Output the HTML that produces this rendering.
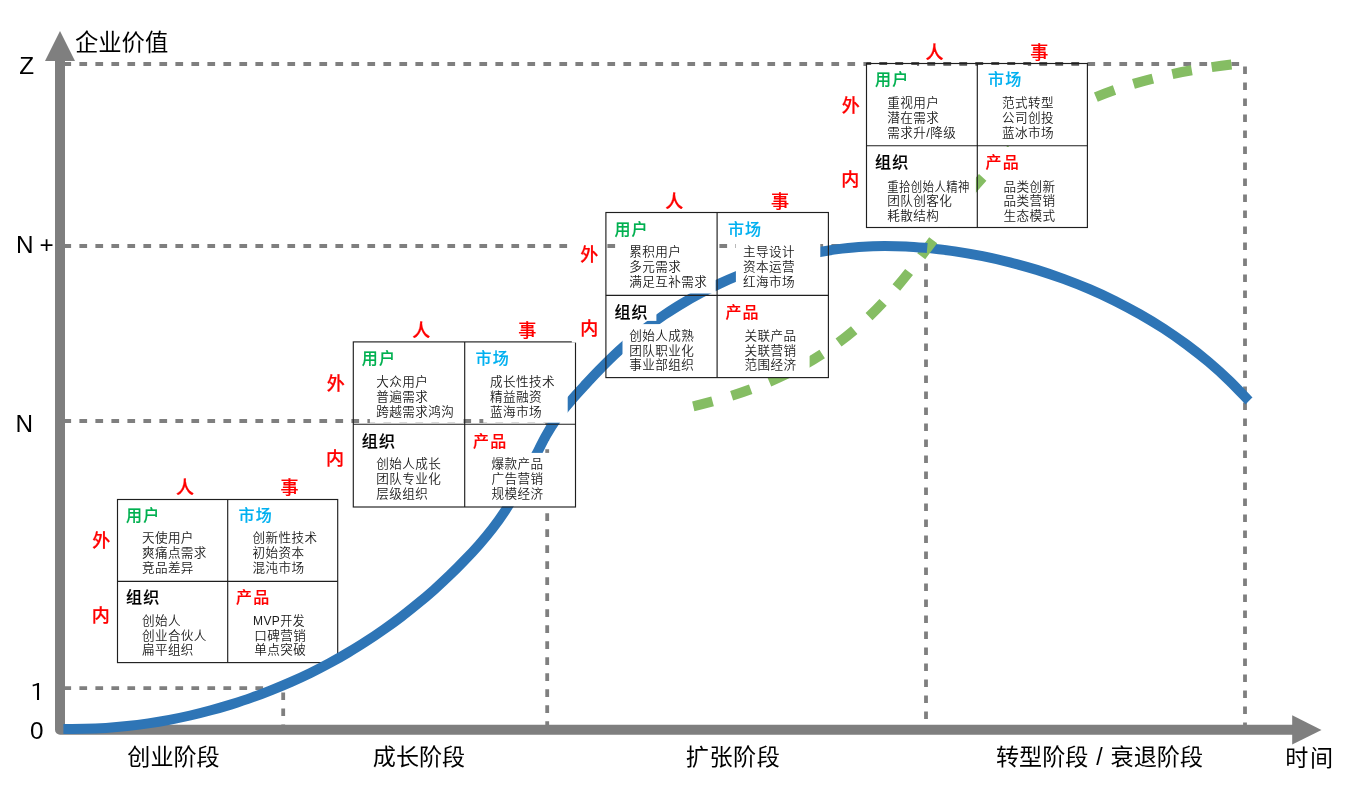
<!DOCTYPE html>
<html lang="zh-CN"><head><meta charset="utf-8"><title>企业生命周期</title>
<style>
html,body{margin:0;padding:0;background:#fff;}
body{width:1353px;height:787px;overflow:hidden;font-family:"Liberation Sans","Noto Sans CJK SC",sans-serif;}
svg{display:block;}
text{font-family:"Liberation Sans","Noto Sans CJK SC",sans-serif;}
.ax{font-size:24.3px;fill:#000;}
.st{font-size:23.1px;fill:#000;}
.rl{font-size:18px;font-weight:500;fill:#ff0000;stroke:#ff0000;stroke-width:0.2px;}
.tt{font-size:16px;font-weight:500;letter-spacing:1.2px;stroke-width:0.15px;}
.bd{font-size:12.6px;font-weight:350;fill:#1a1a1a;letter-spacing:0.4px;}
</style></head><body>
<svg width="1353" height="787" viewBox="0 0 1353 787">
<rect width="1353" height="787" fill="#fff"/>
<g stroke="#7f7f7f" stroke-width="3.8" fill="none" stroke-dasharray="7.7 8.3">
<path d="M63.4 64 H1245 V730"/>
<path d="M63.4 246 H926 V730"/>
<path d="M63.4 421 H547.2 V730"/>
<path d="M63.4 688.2 H283.2 V730"/>
</g>
<path d="M60 58 V729.8 H1293" stroke="#7f7f7f" stroke-width="10" fill="none" stroke-linejoin="round"/>
<path d="M60 31 L75 61 H45 Z" fill="#7f7f7f"/>
<path d="M1321.5 730 L1292.2 715.3 V744.6 Z" fill="#7f7f7f"/>
<rect x="83.4" y="525.9" width="33.6" height="30.9" fill="#fff"/>
<rect x="83.4" y="598.7" width="33.6" height="30.9" fill="#fff"/>
<rect x="118.0" y="500.8" width="50" height="24.2" fill="#fff"/>
<rect x="228.2" y="500.8" width="50" height="24.2" fill="#fff"/>
<rect x="134.1" y="528.2" width="92.2" height="51.3" fill="#fff"/>
<rect x="247.5" y="528.2" width="84.4" height="51.3" fill="#fff"/>
<rect x="118.0" y="582.7" width="50" height="24.2" fill="#fff"/>
<rect x="228.2" y="582.7" width="50" height="24.2" fill="#fff"/>
<rect x="134.1" y="610.1" width="92.2" height="51.9" fill="#fff"/>
<rect x="247.5" y="610.1" width="73.7" height="51.9" fill="#fff"/>
<g stroke="#1f1f1f" stroke-width="1.15" fill="none">
<rect x="117.5" y="499.5" width="220.2" height="163.1"/>
<path d="M227.7 499.5 V662.6 M117.5 581.4 H337.7"/>
</g>
<path d="M927.1 247.9 C931.8 248.5 945.7 250.0 954.9 251.4 C964.2 252.8 973.4 254.4 982.6 256.2 C991.7 258.0 1000.8 260.1 1009.9 262.4 C1019.0 264.7 1028.0 267.2 1036.9 269.9 C1045.8 272.7 1054.7 275.7 1063.5 278.9 C1072.2 282.1 1080.9 285.5 1089.5 289.2 C1098.1 292.9 1106.6 296.8 1115.0 300.9 C1123.3 305.1 1131.6 309.5 1139.7 314.1 C1147.8 318.7 1155.9 323.6 1163.7 328.6 C1171.5 333.7 1179.2 339.1 1186.7 344.6 C1194.2 350.2 1201.6 356.0 1208.7 362.0 C1215.8 368.0 1222.8 374.3 1229.5 380.8 C1236.2 387.3 1245.7 397.6 1249.0 400.9" stroke="#2e75b6" stroke-width="10" fill="none"/>
<path d="M677.7 409.7 C1000.8 343.2 876.6 102 1238.6 63.8" stroke="#85bd63" stroke-width="10" fill="none" stroke-dasharray="20 20" stroke-dashoffset="-15.67"/>
<path d="M63.4 728.9 C66.9 728.9 77.6 729.0 84.7 728.8 C91.8 728.7 98.9 728.4 106.0 727.9 C113.1 727.4 120.2 726.8 127.2 726.1 C134.3 725.3 141.3 724.4 148.4 723.4 C155.4 722.3 162.4 721.1 169.4 719.8 C176.4 718.5 183.3 717.1 190.2 715.5 C197.2 713.9 204.1 712.2 210.9 710.3 C217.8 708.5 224.6 706.5 231.4 704.4 C238.2 702.2 244.9 700.0 251.6 697.6 C258.3 695.3 264.9 692.8 271.5 690.1 C278.1 687.5 284.7 684.8 291.2 681.9 C297.7 679.0 304.1 676.0 310.5 672.9 C316.9 669.8 323.2 666.5 329.5 663.1 C335.7 659.8 341.9 656.3 348.0 652.6 C354.1 649.0 360.2 645.3 366.1 641.4 C372.1 637.6 378.0 633.6 383.8 629.5 C389.6 625.5 395.4 621.3 401.0 617.0 C406.7 612.7 412.2 608.2 417.7 603.7 C423.2 599.2 428.6 594.6 433.9 589.9 C439.2 585.1 444.4 580.3 449.5 575.4 C454.7 570.5 459.7 565.5 464.6 560.3 C469.6 555.2 474.4 550.1 479.1 544.7 C483.8 539.4 488.4 533.9 492.7 528.3 C497.0 522.7 501.1 516.8 505.0 510.9 C508.9 505.0 512.5 498.9 516.1 492.7 C519.7 486.6 523.0 480.3 526.3 474.0 C529.7 467.8 532.8 461.4 536.0 455.1 C539.3 448.7 542.2 442.3 545.7 436.1 C549.2 429.9 552.9 423.8 557.0 418.0 C561.1 412.2 565.7 406.8 570.3 401.4 C574.9 396.0 579.8 390.7 584.6 385.5 C589.4 380.3 594.2 375.1 599.2 370.0 C604.1 364.9 609.2 359.9 614.3 355.0 C619.5 350.2 624.8 345.4 630.2 340.8 C635.6 336.2 641.2 331.8 646.8 327.5 C652.5 323.2 658.3 319.0 664.1 315.0 C670.0 311.1 676.0 307.2 682.1 303.6 C688.2 299.9 694.4 296.4 700.6 293.1 C706.9 289.7 713.3 286.6 719.7 283.6 C726.1 280.6 732.7 277.7 739.2 275.1 C745.8 272.4 752.5 269.9 759.2 267.6 C765.9 265.3 772.7 263.2 779.5 261.2 C786.4 259.3 793.2 257.5 800.2 255.9 C807.1 254.3 814.1 252.9 821.1 251.7 C828.0 250.5 835.1 249.4 842.1 248.6 C849.2 247.8 856.3 247.1 863.4 246.7 C870.4 246.2 877.6 246.0 884.7 245.9 C891.8 245.9 898.9 246.0 906.0 246.4 C913.1 246.7 923.7 247.7 927.2 248.0" stroke="#2e75b6" stroke-width="10" fill="none"/>
<rect x="319.2" y="368.3" width="33.6" height="30.9" fill="#fff"/>
<rect x="319.2" y="441.1" width="33.6" height="30.9" fill="#fff"/>
<rect x="353.8" y="343.2" width="50" height="24.2" fill="#fff"/>
<rect x="465.2" y="343.2" width="50" height="24.2" fill="#fff"/>
<rect x="369.9" y="370.6" width="93.4" height="52.1" fill="#fff"/>
<rect x="483.3" y="370.6" width="84.4" height="52.1" fill="#fff"/>
<rect x="353.8" y="425.5" width="50" height="24.2" fill="#fff"/>
<rect x="465.2" y="425.5" width="50" height="24.2" fill="#fff"/>
<rect x="369.9" y="452.9" width="93.4" height="53.5" fill="#fff"/>
<rect x="483.3" y="452.9" width="73.7" height="53.5" fill="#fff"/>
<g stroke="#1f1f1f" stroke-width="1.15" fill="none">
<rect x="353.3" y="341.9" width="222.2" height="165.1"/>
<path d="M464.7 341.9 V507.0 M353.3 424.2 H575.5"/>
</g>
<rect x="571.8" y="238.9" width="33.6" height="30.9" fill="#fff"/>
<rect x="571.8" y="311.7" width="33.6" height="30.9" fill="#fff"/>
<rect x="606.4" y="213.8" width="50" height="24.2" fill="#fff"/>
<rect x="717.6" y="213.8" width="50" height="24.2" fill="#fff"/>
<rect x="622.5" y="241.2" width="93.2" height="52.3" fill="#fff"/>
<rect x="735.9" y="241.2" width="84.4" height="52.3" fill="#fff"/>
<rect x="606.4" y="296.7" width="50" height="24.2" fill="#fff"/>
<rect x="717.6" y="296.7" width="50" height="24.2" fill="#fff"/>
<rect x="622.5" y="324.1" width="93.2" height="52.9" fill="#fff"/>
<rect x="735.9" y="324.1" width="73.7" height="52.9" fill="#fff"/>
<g stroke="#1f1f1f" stroke-width="1.15" fill="none">
<rect x="605.9" y="212.5" width="222.5" height="165.1"/>
<path d="M717.1 212.5 V377.6 M605.9 295.4 H828.4"/>
</g>
<rect x="832.4" y="89.9" width="33.6" height="30.9" fill="#fff"/>
<rect x="832.4" y="162.7" width="33.6" height="30.9" fill="#fff"/>
<rect x="867.0" y="64.8" width="50" height="24.2" fill="#fff"/>
<rect x="977.8" y="64.8" width="50" height="24.2" fill="#fff"/>
<rect x="883.1" y="92.2" width="92.8" height="51.6" fill="#fff"/>
<rect x="996.5" y="92.2" width="84.4" height="51.6" fill="#fff"/>
<rect x="867.0" y="147.0" width="50" height="24.2" fill="#fff"/>
<rect x="977.8" y="147.0" width="50" height="24.2" fill="#fff"/>
<rect x="883.1" y="174.4" width="92.8" height="52.5" fill="#fff"/>
<rect x="996.5" y="174.4" width="73.7" height="52.5" fill="#fff"/>
<path d="M866.5 63.5 H1087.4" stroke="#444" stroke-width="2.7" fill="none" stroke-dasharray="7.7 8.3" stroke-dashoffset="3.1"/>
<g stroke="#1f1f1f" stroke-width="1.15" fill="none">
<rect x="866.5" y="63.5" width="220.9" height="164.0"/>
<path d="M977.3 63.5 V227.5 M866.5 145.7 H1087.4"/>
</g>
<text class="rl" x="184.9" y="493.9" text-anchor="middle">人</text>
<text class="rl" x="289.5" y="493.9" text-anchor="middle">事</text>
<text class="rl" x="101.3" y="547.0" text-anchor="middle">外</text>
<text class="rl" x="100.8" y="621.9" text-anchor="middle">内</text>
<text class="tt" fill="#00b050" stroke="#00b050" x="126.0" y="521.1">用户</text>
<text class="bd" x="141.9" y="542.2">天使用户</text>
<text class="bd" x="141.9" y="556.9">爽痛点需求</text>
<text class="bd" x="141.9" y="571.6">竞品差异</text>
<text class="tt" fill="#00b0f0" stroke="#00b0f0" x="238.5" y="521.1">市场</text>
<text class="bd" x="252.6" y="542.2">创新性技术</text>
<text class="bd" x="252.6" y="556.9">初始资本</text>
<text class="bd" x="252.6" y="571.6">混沌市场</text>
<text class="tt" fill="#000" stroke="#000" x="126.0" y="603.1">组织</text>
<text class="bd" x="141.9" y="624.8">创始人</text>
<text class="bd" x="141.9" y="639.5">创业合伙人</text>
<text class="bd" x="141.9" y="654.2">扁平组织</text>
<text class="tt" fill="#ff0000" stroke="#ff0000" x="236.0" y="603.1">产品</text>
<text class="bd" x="253.0" y="624.8" textLength="52" lengthAdjust="spacingAndGlyphs">MVP开发</text>
<text class="bd" x="254.2" y="639.5">口碑营销</text>
<text class="bd" x="254.2" y="654.2">单点突破</text>
<text class="rl" x="421.3" y="337.3" text-anchor="middle">人</text>
<text class="rl" x="527.2" y="337.3" text-anchor="middle">事</text>
<text class="rl" x="335.7" y="389.8" text-anchor="middle">外</text>
<text class="rl" x="335.0" y="464.7" text-anchor="middle">内</text>
<text class="tt" fill="#00b050" stroke="#00b050" x="361.8" y="364.3">用户</text>
<text class="bd" x="376.3" y="386.1">大众用户</text>
<text class="bd" x="376.3" y="400.8">普遍需求</text>
<text class="bd" x="376.3" y="415.5">跨越需求鸿沟</text>
<text class="tt" fill="#00b0f0" stroke="#00b0f0" x="475.5" y="364.3">市场</text>
<text class="bd" x="490.0" y="386.1">成长性技术</text>
<text class="bd" x="490.0" y="400.8">精益融资</text>
<text class="bd" x="490.0" y="415.5">蓝海市场</text>
<text class="tt" fill="#000" stroke="#000" x="361.8" y="447.1">组织</text>
<text class="bd" x="376.3" y="468.4">创始人成长</text>
<text class="bd" x="376.3" y="483.1">团队专业化</text>
<text class="bd" x="376.3" y="497.8">层级组织</text>
<text class="tt" fill="#ff0000" stroke="#ff0000" x="473.0" y="447.1">产品</text>
<text class="bd" x="491.6" y="468.4">爆款产品</text>
<text class="bd" x="491.6" y="483.1">广告营销</text>
<text class="bd" x="491.6" y="497.8">规模经济</text>
<text class="rl" x="674.3" y="208.4" text-anchor="middle">人</text>
<text class="rl" x="780.1" y="208.4" text-anchor="middle">事</text>
<text class="rl" x="589.2" y="260.5" text-anchor="middle">外</text>
<text class="rl" x="589.2" y="335.4" text-anchor="middle">内</text>
<text class="tt" fill="#00b050" stroke="#00b050" x="614.4" y="234.8">用户</text>
<text class="bd" x="629.3" y="256.3">累积用户</text>
<text class="bd" x="629.3" y="271.0">多元需求</text>
<text class="bd" x="629.3" y="285.7">满足互补需求</text>
<text class="tt" fill="#00b0f0" stroke="#00b0f0" x="727.9" y="234.8">市场</text>
<text class="bd" x="743.0" y="256.3">主导设计</text>
<text class="bd" x="743.0" y="271.0">资本运营</text>
<text class="bd" x="743.0" y="285.7">红海市场</text>
<text class="tt" fill="#000" stroke="#000" x="614.4" y="317.9">组织</text>
<text class="bd" x="629.3" y="339.8">创始人成熟</text>
<text class="bd" x="629.3" y="354.5">团队职业化</text>
<text class="bd" x="629.3" y="369.2">事业部组织</text>
<text class="tt" fill="#ff0000" stroke="#ff0000" x="725.4" y="317.9">产品</text>
<text class="bd" x="744.6" y="339.8">关联产品</text>
<text class="bd" x="744.6" y="354.5">关联营销</text>
<text class="bd" x="744.6" y="369.2">范围经济</text>
<text class="rl" x="934.6" y="59.1" text-anchor="middle">人</text>
<text class="rl" x="1039.2" y="59.1" text-anchor="middle">事</text>
<text class="rl" x="850.8" y="111.5" text-anchor="middle">外</text>
<text class="rl" x="850.2" y="186.4" text-anchor="middle">内</text>
<text class="tt" fill="#00b050" stroke="#00b050" x="875.0" y="85.1">用户</text>
<text class="bd" x="887.3" y="107.2">重视用户</text>
<text class="bd" x="887.3" y="121.9">潜在需求</text>
<text class="bd" x="887.3" y="136.6">需求升/降级</text>
<text class="tt" fill="#00b0f0" stroke="#00b0f0" x="988.1" y="85.1">市场</text>
<text class="bd" x="1002.0" y="107.2">范式转型</text>
<text class="bd" x="1002.0" y="121.9">公司创投</text>
<text class="bd" x="1002.0" y="136.6">蓝冰市场</text>
<text class="tt" fill="#000" stroke="#000" x="875.0" y="168.1">组织</text>
<text class="bd" x="887.3" y="190.5" textLength="82.4" lengthAdjust="spacingAndGlyphs">重拾创始人精神</text>
<text class="bd" x="887.3" y="205.2">团队创客化</text>
<text class="bd" x="887.3" y="219.9">耗散结构</text>
<text class="tt" fill="#ff0000" stroke="#ff0000" x="985.6" y="168.1">产品</text>
<text class="bd" x="1003.6" y="190.5">品类创新</text>
<text class="bd" x="1003.6" y="205.2">品类营销</text>
<text class="bd" x="1003.6" y="219.9">生态模式</text>
<text class="ax" x="19.3" y="74.2">Z</text>
<text class="ax" x="16" y="253">N</text>
<text class="ax" x="46.5" y="253" text-anchor="middle">+</text>
<text class="ax" x="15.5" y="432.3">N</text>
<text class="ax" x="30" y="700" style="font-family:IPAPGothic,'Liberation Sans',sans-serif;font-size:23.5px">1</text>
<text class="ax" x="30" y="739">0</text>
<text class="st" x="75" y="50.7" style="font-size:23.3px">企业价值</text>
<text class="st" x="127.3" y="765.3">创业阶段</text>
<text class="st" x="372.8" y="765.3">成长阶段</text>
<text class="st" x="685.7" y="765.3" letter-spacing="0.6">扩张阶段</text>
<text class="st" x="996" y="765.3" word-spacing="1.5">转型阶段 / 衰退阶段</text>
<text class="st" x="1285.3" y="766.2" letter-spacing="1.6">时间</text>
</svg></body></html>
